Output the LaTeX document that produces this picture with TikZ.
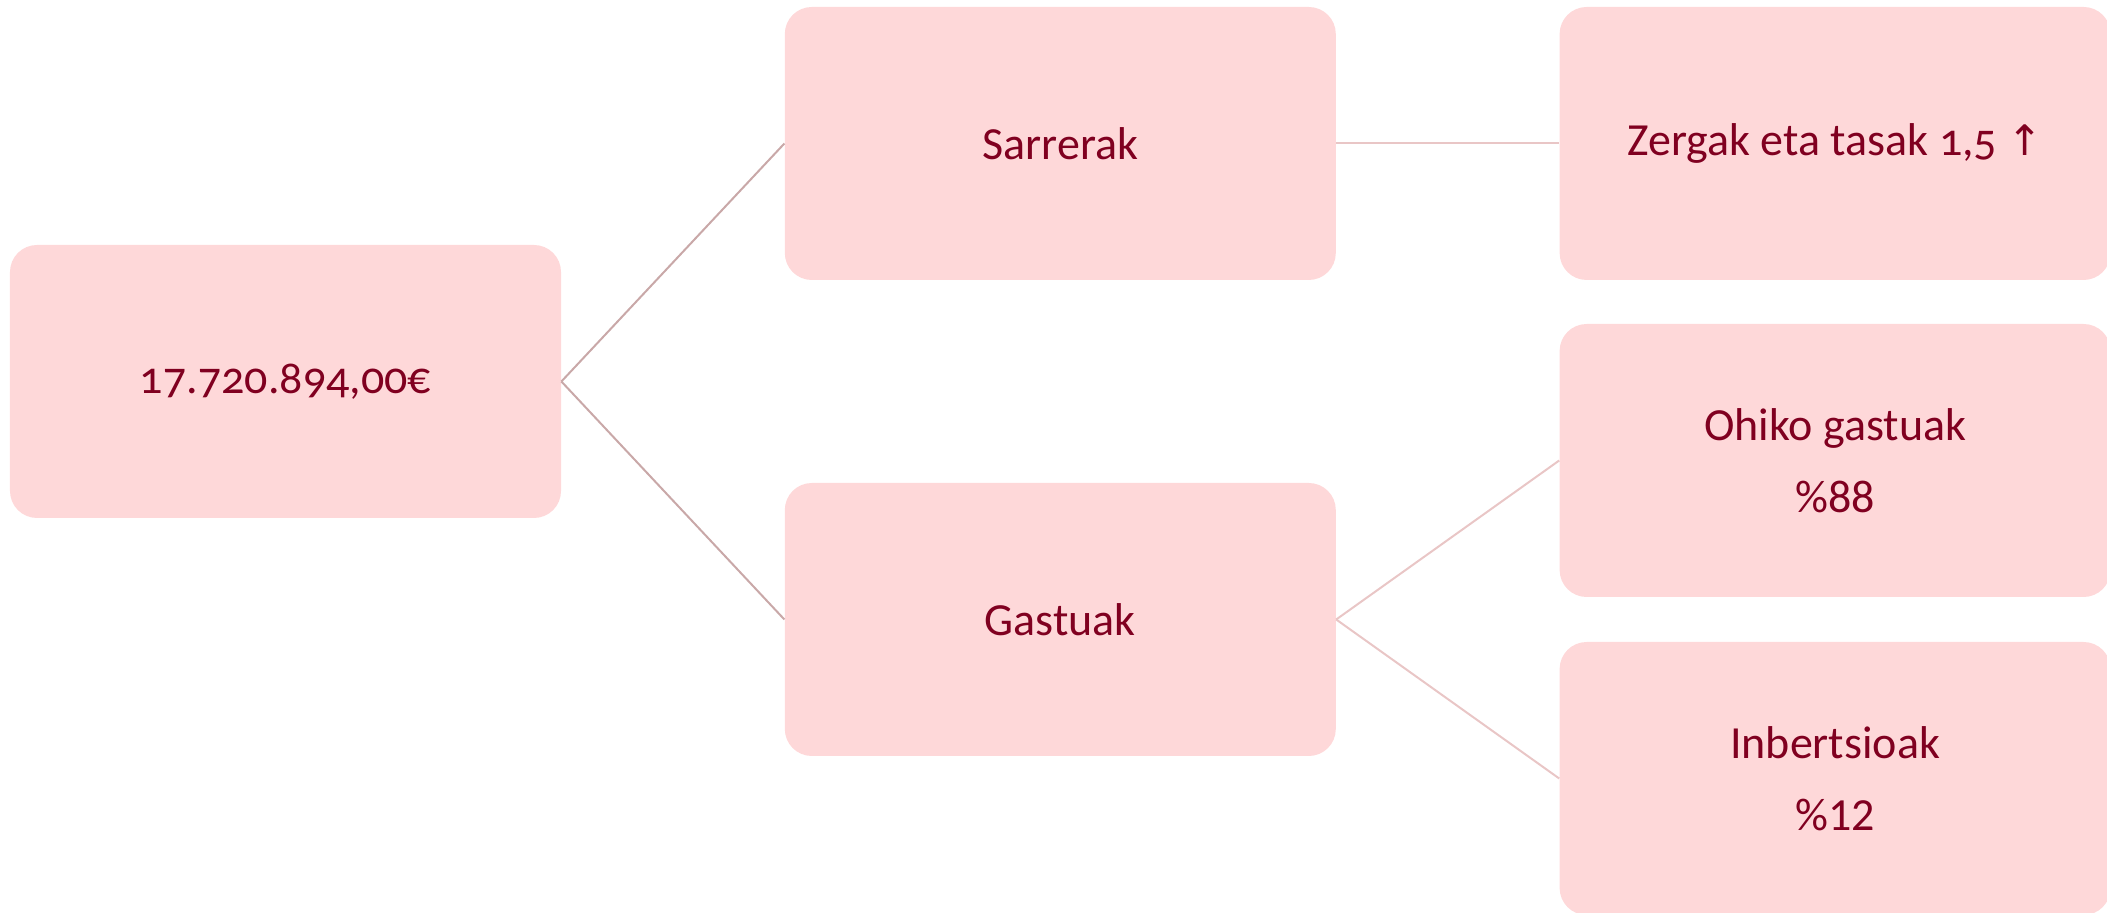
\documentclass[tikz,border=0pt]{standalone}
\usepackage{fontspec}
\setmainfont{Carlito}[Numbers=OldStyle]
\newfontfamily\arrowfont{DejaVu Sans}
\usepackage{tikz}
\newcommand{\nodewidth}{275.5pt}
\newcommand{\nodeheight}{136.5pt}
\newcommand{\colgap}{111.5pt}
\newcommand{\lining}{\addfontfeature{Numbers=Lining}}
\definecolor{boxPink}{RGB}{254,216,217}
\definecolor{textRed}{RGB}{128,0,32}
\definecolor{lineDark}{RGB}{201,168,168}
\definecolor{lineLight}{RGB}{233,198,198}
\usetikzlibrary{positioning}
\tikzset{
  font=\fontsize{23pt}{36pt}\selectfont,
  rect/.style={fill=boxPink,text=textRed,shape=rectangle,rounded corners=13.5pt,minimum width=\nodewidth,minimum height=\nodeheight,align=center,inner sep=0},
  link/.style={draw=lineDark,line width=1pt},
  linklight/.style={draw=lineLight,line width=1pt},
}
\begin{document}
\begin{tikzpicture}
  \useasboundingbox (-142.75pt,-265.75pt) rectangle (910.75pt,190.75pt);
  \node (root) [rect] at (0,0) {17.720.894,00€};
  \node (sarrerak) [rect,right=\colgap of root,yshift=119pt] {Sarrerak};
  \node (gastuak) [rect,right=\colgap of root,yshift=-119pt] {Gastuak};
  \node (zergak) [rect,right=\colgap of sarrerak] {Zergak eta tasak 1,5 {\arrowfont\fontsize{21pt}{21pt}\selectfont ↑}};
  \node (ohiko) [rect,right=\colgap of gastuak,yshift=79.5pt] {Ohiko gastuak\\{\lining\%88}};
  \node (inbert) [rect,right=\colgap of gastuak,yshift=-79.5pt] {Inbertsioak\\{\lining\%12}};
  % connectors
  \path [link] (root.east) -- (sarrerak.west);
  \path [link] (root.east) -- (gastuak.west);
  \path [linklight] (sarrerak.east) -- (zergak.west);
  \path [linklight] (gastuak.east) -- (ohiko.west);
  \path [linklight] (gastuak.east) -- (inbert.west);
\end{tikzpicture}
\end{document}
